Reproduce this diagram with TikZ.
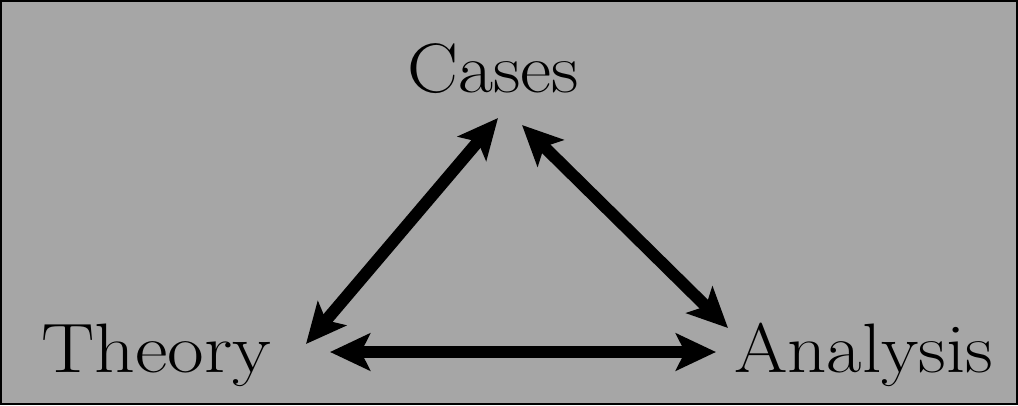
\documentclass[tikz,border=0pt]{standalone}
\usetikzlibrary{arrows.meta}
\definecolor{bggray}{HTML}{A6A6A6}
\tikzset{
  lbl/.style={inner sep=0pt, anchor=base, font=\fontsize{70}{80}\selectfont},
  dbl/.style={line width=12pt, {Stealth[length=40pt,width=37pt,inset=9pt]}-{Stealth[length=40pt,width=37pt,inset=9pt]}}
}
\begin{document}
\begin{tikzpicture}[x=1pt,y=-1pt]
\useasboundingbox (0,0) rectangle (1018,405);
\draw[fill=bggray, line width=2pt] (1,1) rectangle (1017,404);
\node[lbl, xscale=1.09] (cases) at (493,92) {Cases};
\node[lbl, anchor=base west, xscale=1.14] (theory) at (41,372) {Theory};
\node[lbl, anchor=base west, xscale=1.10] (analysis) at (734,372) {Analysis};
\coordinate (tc1) at (306,344);
\coordinate (tc2) at (498,118);
\coordinate (ca1) at (522,125);
\coordinate (ca2) at (728,328);
\coordinate (ta1) at (330,352);
\coordinate (ta2) at (716,352);
\draw[dbl] (tc1) -- (tc2);
\draw[dbl] (ca1) -- (ca2);
\draw[dbl] (ta1) -- (ta2);
\end{tikzpicture}
\end{document}
